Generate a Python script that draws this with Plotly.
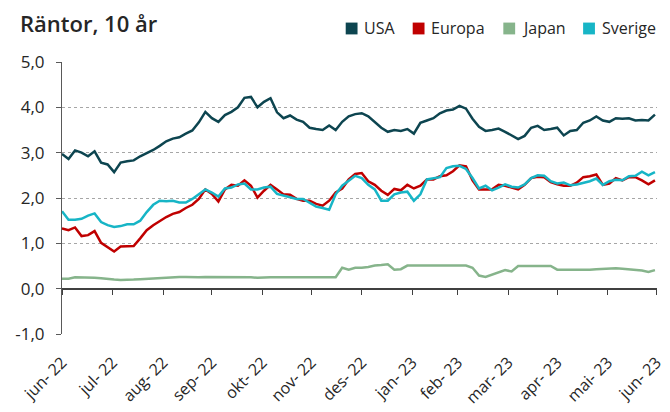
import pandas as pd
import plotly.graph_objects as go

# ---- data (one point every 4 days from 30 Jun 2022) ----
series_names = ["USA", "Europa", "Japan", "Sverige"]
series_colors = ["#0d4550", "#c00000", "#86b48b", "#17b5c6"]

usa = [2.97, 2.86, 3.05, 3.00, 2.92, 3.03, 2.78, 2.74, 2.57, 2.78, 2.81, 2.83, 2.92, 2.99, 3.06, 3.15, 3.25, 3.31, 3.34, 3.42, 3.49, 3.67, 3.90,
       3.76, 3.68, 3.83, 3.90, 4.00, 4.21, 4.23, 4.00, 4.12, 4.20, 3.89, 3.76, 3.82, 3.73, 3.68, 3.55, 3.52, 3.50, 3.60, 3.50, 3.68, 3.80, 3.85,
       3.87, 3.80, 3.68, 3.55, 3.46, 3.50, 3.48, 3.52, 3.42, 3.66, 3.71, 3.76, 3.87, 3.93, 3.95, 4.03, 3.97, 3.75, 3.57, 3.48, 3.50, 3.53, 3.46,
       3.38, 3.30, 3.37, 3.55, 3.59, 3.50, 3.52, 3.55, 3.38, 3.48, 3.50, 3.66, 3.71, 3.80, 3.71, 3.68, 3.76, 3.75, 3.76, 3.71, 3.72, 3.71, 3.84]

europa = [1.33, 1.29, 1.35, 1.16, 1.18, 1.27, 1.01, 0.91, 0.82, 0.93, 0.93, 0.94, 1.11, 1.29, 1.40, 1.50, 1.58, 1.65, 1.69, 1.78, 1.85, 1.98, 2.19,
          2.09, 1.92, 2.19, 2.29, 2.27, 2.39, 2.27, 2.01, 2.16, 2.29, 2.19, 2.08, 2.07, 1.98, 1.94, 1.94, 1.87, 1.83, 1.94, 2.12, 2.21, 2.41, 2.53,
          2.55, 2.37, 2.29, 2.16, 2.07, 2.20, 2.17, 2.29, 2.21, 2.27, 2.41, 2.41, 2.48, 2.50, 2.59, 2.72, 2.70, 2.39, 2.19, 2.19, 2.19, 2.29, 2.27,
          2.23, 2.19, 2.29, 2.44, 2.47, 2.46, 2.35, 2.30, 2.27, 2.27, 2.34, 2.46, 2.48, 2.52, 2.29, 2.32, 2.44, 2.39, 2.46, 2.46, 2.39, 2.30, 2.39]

japan = [0.22, 0.22, 0.25, 0.25, 0.24, 0.24, 0.23, 0.21, 0.20, 0.19, 0.19, 0.20, 0.21, 0.22, 0.23, 0.24, 0.25, 0.25, 0.26, 0.26, 0.25, 0.25, 0.26,
         0.26, 0.25, 0.25, 0.25, 0.25, 0.25, 0.25, 0.24, 0.25, 0.25, 0.25, 0.25, 0.25, 0.25, 0.25, 0.25, 0.25, 0.25, 0.25, 0.25, 0.46, 0.42, 0.46,
         0.46, 0.48, 0.51, 0.52, 0.54, 0.42, 0.43, 0.51, 0.51, 0.51, 0.51, 0.51, 0.51, 0.51, 0.51, 0.51, 0.51, 0.46, 0.29, 0.26, 0.31, 0.35, 0.41,
         0.38, 0.50, 0.50, 0.50, 0.50, 0.50, 0.50, 0.42, 0.42, 0.41, 0.41, 0.42, 0.42, 0.43, 0.44, 0.45, 0.45, 0.44, 0.43, 0.42, 0.40, 0.37, 0.41]

sverige = [1.71, 1.52, 1.52, 1.54, 1.61, 1.66, 1.47, 1.40, 1.36, 1.38, 1.42, 1.42, 1.50, 1.69, 1.85, 1.94, 1.93, 1.94, 1.90, 1.90, 1.98, 2.08, 2.19,
           2.12, 2.03, 2.21, 2.23, 2.30, 2.32, 2.19, 2.19, 2.23, 2.25, 2.09, 2.05, 2.01, 1.98, 1.98, 1.90, 1.81, 1.78, 1.74, 2.08, 2.27, 2.38, 2.49,
           2.44, 2.29, 2.19, 1.94, 1.94, 2.08, 2.12, 2.14, 1.94, 2.08, 2.41, 2.44, 2.46, 2.66, 2.70, 2.71, 2.64, 2.44, 2.21, 2.27, 2.17, 2.23, 2.30,
           2.25, 2.23, 2.30, 2.44, 2.50, 2.49, 2.37, 2.32, 2.34, 2.28, 2.30, 2.34, 2.37, 2.43, 2.29, 2.37, 2.40, 2.39, 2.48, 2.49, 2.58, 2.50, 2.57]

x_tick_labels = ["jun- 22", "jul- 22", "aug- 22", "sep- 22", "okt- 22", "nov- 22", "des- 22",
                 "jan- 23", "feb- 23", "mar- 23", "apr- 23", "mai- 23", "jun- 23"]
y_tick_values = [-1, 0, 1, 2, 3, 4, 5]
y_tick_labels = ["-1,0", "0,0", "1,0", "2,0", "3,0", "4,0", "5,0"]

dates = pd.date_range("2022-06-30", periods=len(usa), freq="4D")
tick_dates = pd.date_range("2022-06-30", periods=len(x_tick_labels), freq="ME")
x_range = [tick_dates[0], tick_dates[-1] + pd.Timedelta(hours=6)]

values = {"USA": usa, "Europa": europa, "Japan": japan, "Sverige": sverige}
colors = dict(zip(series_names, series_colors))

# ---- layout geometry (pixels) ----
W, H = 670, 412
M_L, M_R, M_T, M_B = 62, 4, 62, 74
PW, PH = W - M_L - M_R, H - M_T - M_B
legend_square_left = [350, 418, 510, 591]
legend_center_y = 28
square = 12


def px_to_paper_x(px):
    return (px - M_L) / PW


def px_to_paper_y(py):
    return (H - M_B - py) / PH


fig = go.Figure()

draw_order = ["Japan", "USA", "Europa", "Sverige"]
for name in draw_order:
    fig.add_trace(go.Scatter(
        x=dates, y=values[name], mode="lines", name=name,
        line=dict(color=colors[name], width=2.5),
        showlegend=False, hoverinfo="skip",
        xaxis="x2" if name == "Japan" else "x",
    ))

text_color = "#262626"

# legend: square swatches + labels
shapes = []
annotations = []
for left, name in zip(legend_square_left, series_names):
    shapes.append(dict(type="rect", xref="paper", yref="paper",
                       x0=px_to_paper_x(left), x1=px_to_paper_x(left + square),
                       y0=px_to_paper_y(legend_center_y + square / 2),
                       y1=px_to_paper_y(legend_center_y - square / 2),
                       fillcolor=colors[name], line=dict(width=0)))
    annotations.append(dict(text=name, xref="paper", yref="paper",
                            x=px_to_paper_x(left + square + 5), xanchor="left",
                            y=px_to_paper_y(legend_center_y), yanchor="middle",
                            showarrow=False, font=dict(size=16, color=text_color)))

fig.update_layout(
    width=W, height=H,
    margin=dict(l=M_L, r=M_R, t=M_T, b=M_B),
    paper_bgcolor="white", plot_bgcolor="white",
    font=dict(family="Open Sans", color=text_color),
    showlegend=False,
    title=dict(text="Räntor, 10 år", x=20 / W, xanchor="left", xref="container",
               y=1 - 24 / H, yanchor="middle", yref="container",
               font=dict(size=22, weight=600, color=text_color, family="Open Sans")),
    shapes=shapes,
    annotations=annotations,
    xaxis=dict(type="date", range=x_range, tickvals=tick_dates, ticktext=x_tick_labels,
               tickangle=-45, showgrid=False, zeroline=False, showline=False, ticks="",
               tickfont=dict(size=16, color=text_color), ticklabelstandoff=15,
               ticklabeloverflow="allow"),
    xaxis2=dict(type="date", range=x_range, overlaying="x", anchor="free", position=1 / 6,
                tickvals=tick_dates, showticklabels=False, ticks="outside", ticklen=6,
                tickcolor="#404040", tickwidth=1.2, showline=True, linecolor="#404040",
                linewidth=1.5, showgrid=False, zeroline=False),
    yaxis=dict(range=[-1, 5], tickvals=y_tick_values, ticktext=y_tick_labels,
               showgrid=True, gridcolor="#a6a6a6", griddash="dot", gridwidth=1,
               zeroline=False, showline=True, linecolor="#595959", linewidth=1,
               ticks="outside", ticklen=5, tickcolor="#595959",
               tickfont=dict(size=17, color=text_color), ticklabelstandoff=8),
)

fig.write_html("out.html", config={"displayModeBar": False},
               post_script="document.body.style.margin='0';")
